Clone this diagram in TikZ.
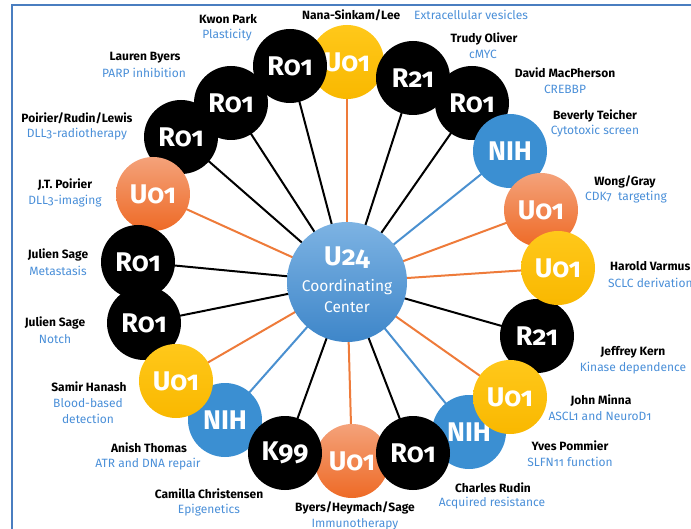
\documentclass[tikz,border=0pt]{standalone}
\usepackage{fontspec}
\setmainfont[Numbers=OldStyle]{Fira Sans}
\usetikzlibrary{backgrounds}
\definecolor{lblue}{HTML}{4A8FD8}
\definecolor{frameblue}{HTML}{4A7EC0}
\definecolor{ylwtop}{HTML}{FFC81A}
\definecolor{ylwbot}{HTML}{F9B800}
\definecolor{orgtop}{HTML}{F4A27A}
\definecolor{orgbot}{HTML}{EE6A26}
\definecolor{nihblue}{HTML}{3B8FD2}
\definecolor{hubtop}{HTML}{7DB3E3}
\definecolor{hubbot}{HTML}{3E86C9}
\definecolor{lineorg}{HTML}{EE7B3A}
\definecolor{lineblue}{HTML}{4A90D0}
\tikzset{
  grant/.style={circle, minimum size=74pt, inner sep=0pt, text=white,
    font=\fontsize{27}{27}\selectfont\bfseries},
  blk/.style={grant, fill=black},
  ylw/.style={grant, top color=ylwtop, bottom color=ylwbot},
  org/.style={grant, top color=orgtop, bottom color=orgbot},
  nih/.style={grant, fill=nihblue},
  hubst/.style={circle, minimum size=120pt, inner sep=0pt, text=white,
    top color=hubtop, bottom color=hubbot, align=center},
  nm/.style={font=\fontsize{12}{13}\selectfont\bfseries, text=black, inner sep=0pt},
  tp/.style={font=\fontsize{12}{13}\selectfont, text=lblue, inner sep=0pt},
  lk/.style={line width=2pt, black},
  lo/.style={line width=2pt, lineorg},
  lb/.style={line width=2pt, lineblue},
}
\begin{document}
\begin{tikzpicture}[x=1pt,y=-1pt]
\useasboundingbox (0,0) rectangle (691,529);
\draw[frameblue, line width=1.5pt] (12,535) -- (12,5) -- (700,5);

% grants (bottom to top)
\node[ylw] (c2) at (347,62) {U01};
\node[blk] (c3) at (413,78) {R21};
\node[blk] (c4) at (472,103) {R01};
\node[nih] (c5) at (510,151) {NIH};
\node[org] (c6) at (541,210) {U01};
\node[blk] (c8) at (537,336) {R21};
\node[ylw] (c7) at (558,268) {U01};
\node[nih] (c10) at (469,432) {NIH};
\node[ylw] (c9) at (510,397) {U01};
\node[org] (c12) at (352,461) {U01};
\node[blk] (c11) at (413,453) {R01};
\node[nih] (c14) at (225,420) {NIH};
\node[blk] (c13) at (285,453) {K99};
\node[blk] (c16) at (144,323) {R01};
\node[ylw] (c15) at (176,381) {U01};
\node[blk] (c19) at (181,137) {R01};
\node[blk] (c20) at (231,103) {R01};
\node[blk] (c1) at (290,66) {R01};
\node[org] (c18) at (153,194) {U01};
\node[blk] (c17) at (138,262) {R01};

% hub
\node[hubst] (hub) at (347,282) {};
\node[text=white, font=\fontsize{27}{27}\selectfont\bfseries] (hubt) at (347,258) {U24};
\node[text=white, font=\fontsize{15.5}{17}\selectfont] (hubc) at (347,287) {Coordinating};
\node[text=white, font=\fontsize{15.5}{17}\selectfont] (hubd) at (347,307) {Center};

% connectors
\begin{pgfonlayer}{background}
\draw[lk] (hub.center) -- (c1.center);
\draw[lo] (hub.center) -- (c2.center);
\draw[lk] (hub.center) -- (c3.center);
\draw[lk] (hub.center) -- (c4.center);
\draw[lb] (hub.center) -- (c5.center);
\draw[lo] (hub.center) -- (c6.center);
\draw[lo] (hub.center) -- (c7.center);
\draw[lk] (hub.center) -- (c8.center);
\draw[lo] (hub.center) -- (c9.center);
\draw[lb] (hub.center) -- (c10.center);
\draw[lk] (hub.center) -- (c11.center);
\draw[lo] (hub.center) -- (c12.center);
\draw[lk] (hub.center) -- (c13.center);
\draw[lb] (hub.center) -- (c14.center);
\draw[lo] (hub.center) -- (c15.center);
\draw[lk] (hub.center) -- (c16.center);
\draw[lk] (hub.center) -- (c17.center);
\draw[lo] (hub.center) -- (c18.center);
\draw[lk] (hub.center) -- (c19.center);
\draw[lk] (hub.center) -- (c20.center);
\end{pgfonlayer}

% labels
\node[nm] (n1) at (228,19) {Kwon Park};
\node[tp] (t1) at (227,35) {Plasticity};
\node[nm, anchor=west] (n2) at (302,15) {Nana-Sinkam/Lee};
\node[tp, anchor=west] (t2) at (414,15) {Extracellular vesicles};
\node[nm] (n3) at (484,39) {Trudy Oliver};
\node[tp] (t3) at (483,54) {cMYC};
\node[nm] (n4) at (565,73) {David MacPherson};
\node[tp] (t4) at (565,89) {CREBBP};
\node[nm] (n5) at (595,116) {Beverly Teicher};
\node[tp] (t5) at (595,131) {Cytotoxic screen};
\node[nm] (n6) at (625,182) {Wong/Gray};
\node[tp] (t6) at (626,197) {CDK7\ \ targeting};
\node[nm, anchor=west] (n7) at (610,266) {Harold Varmus};
\node[tp, anchor=west] (t7) at (608,283) {SCLC derivation};
\node[nm] (n8) at (633,352) {Jeffrey Kern};
\node[tp] (t8) at (633,368) {Kinase dependence};
\node[nm] (n9) at (601,401) {John Minna};
\node[tp] (t9) at (600,416) {ASCL1 and NeuroD1};
\node[nm] (n10) at (570,446) {Yves Pommier};
\node[tp] (t10) at (570,462) {SLFN11 function};
\node[nm] (n11) at (493,488) {Charles Rudin};
\node[tp] (t11) at (492,503) {Acquired resistance};
\node[nm] (n12) at (355,508) {Byers/Heymach/Sage};
\node[tp] (t12) at (355,524) {Immunotherapy};
\node[nm] (n13) at (209,494) {Camilla Christensen};
\node[tp] (t13) at (209,510) {Epigenetics};
\node[nm] (n14) at (149,448) {Anish Thomas};
\node[tp] (t14) at (148,464) {ATR and DNA repair};
\node[nm] (n15) at (89,387) {Samir Hanash};
\node[tp] (t15) at (88,403) {Blood-based};
\node[tp] (t15b) at (88,419) {detection};
\node[nm] (n16) at (55,323) {Julien Sage};
\node[tp] (t16) at (55,339) {Notch};
\node[nm] (n17) at (58,255) {Julien Sage};
\node[tp] (t17) at (58,271) {Metastasis};
\node[nm] (n18) at (65,185) {J.T. Poirier};
\node[tp] (t18) at (65,201) {DLL3-imaging};
\node[nm] (n19) at (77,118) {Poirier/Rudin/Lewis};
\node[tp] (t19) at (77,134) {DLL3-radiotherapy};
\node[nm] (n20) at (145,58) {Lauren Byers};
\node[tp] (t20) at (144,73) {PARP inhibition};
\end{tikzpicture}
\end{document}
